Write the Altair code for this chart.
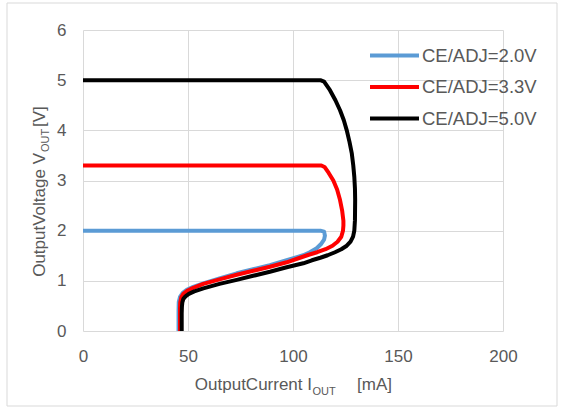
import altair as alt
import pandas as pd

# ---- data ----
series_names = ["CE/ADJ=2.0V", "CE/ADJ=3.3V", "CE/ADJ=5.0V"]
series_colors = ["#5B9BD5", "#FF0000", "#000000"]

blue_i = [0, 113, 114.8, 115.2, 114.8, 113.5, 111.3, 108, 104.9, 97, 89, 81, 73.2, 65, 57.3, 52.5, 49.4, 47.5, 46.2, 45.6, 45.5, 45.5]
blue_v = [2.0, 2.0, 1.98, 1.9, 1.82, 1.74, 1.65, 1.57, 1.51, 1.41, 1.31, 1.23, 1.15, 1.05, 0.95, 0.88, 0.82, 0.76, 0.68, 0.58, 0.4, 0]

red_i = [0, 113.5, 115, 117, 119.2, 121, 122.4, 123.4, 124, 124, 123.8, 123, 121.2, 118.8, 115.5, 111.5, 107.5, 104, 97, 89, 81, 73.2, 65, 57.3, 52.5, 49.6, 47.8, 46.8, 46.3, 46.2, 46.2]
red_v = [3.3, 3.3, 3.27, 3.15, 3.0, 2.82, 2.61, 2.4, 2.2, 2.1, 2.0, 1.88, 1.78, 1.7, 1.63, 1.57, 1.52, 1.47, 1.37, 1.28, 1.2, 1.12, 1.03, 0.94, 0.86, 0.8, 0.74, 0.67, 0.57, 0.45, 0]

black_i = [0, 113, 114.8, 117.6, 120.2, 122.4, 124.2, 125.6, 126.9, 128, 128.7, 129.2, 129.5, 129.6, 129.5, 129.2, 128.6, 127.4, 125.6, 123, 120, 116.5, 113, 109, 104.9, 97, 89, 81, 73.2, 65, 57.3, 53, 50.4, 48.8, 47.8, 47.3, 47.1, 47, 47]
black_v = [5.0, 5.0, 4.97, 4.8, 4.6, 4.4, 4.2, 4.0, 3.77, 3.54, 3.3, 3.07, 2.84, 2.61, 2.21, 2.0, 1.88, 1.78, 1.7, 1.63, 1.57, 1.51, 1.46, 1.41, 1.35, 1.27, 1.18, 1.1, 1.02, 0.94, 0.85, 0.79, 0.74, 0.69, 0.64, 0.57, 0.48, 0.35, 0]

x_ticks = [0, 50, 100, 150, 200]
y_ticks = [0, 1, 2, 3, 4, 5, 6]
x_title_parts = ["OutputCurrent I", "OUT", "[mA]"]
y_title_parts = ["OutputVoltage V", "OUT", "[V]"]

# ---- build table ----
rows = []
for name, xs, ys in zip(series_names, [blue_i, red_i, black_i], [blue_v, red_v, black_v]):
    for k, (a, b) in enumerate(zip(xs, ys)):
        rows.append({"series": name, "I": a, "V": b, "idx": k})
df = pd.DataFrame(rows)

FONT = "Liberation Sans"
GRAY = "#595959"

lines = alt.Chart(df).mark_line(strokeWidth=4, strokeJoin="round", interpolate="linear").encode(
    x=alt.X("I:Q", scale=alt.Scale(domain=[0, 200], nice=False),
            axis=alt.Axis(values=x_ticks, title=None, labelPadding=17, labelFlush=False)),
    y=alt.Y("V:Q", scale=alt.Scale(domain=[0, 6], nice=False),
            axis=alt.Axis(values=y_ticks, title=None, labelPadding=17, labelFlush=False)),
    color=alt.Color("series:N",
                    scale=alt.Scale(domain=series_names, range=series_colors),
                    legend=alt.Legend(title=None, orient="none", legendX=297, legendY=11,
                                      symbolType="M-2,0H2", symbolSize=600, symbolStrokeWidth=4,
                                      symbolFillColor="transparent",
                                      labelFont=FONT, labelFontSize=18.5, labelColor=GRAY,
                                      labelOffset=13, rowPadding=7.5, padding=0)),
    order="idx:Q",
)

border = alt.Chart(pd.DataFrame({"k": [0]})).mark_rect(
    fillOpacity=0, stroke="#D9D9D9", strokeWidth=1
).encode(x=alt.value(-76), x2=alt.value(474), y=alt.value(-27), y2=alt.value(376))

def txt(s, x, y, size, angle=0, align="left"):
    return alt.Chart(pd.DataFrame({"t": [s]})).mark_text(
        font=FONT, fontSize=size, color=GRAY, align=align, baseline="alphabetic", angle=angle
    ).encode(text="t:N", x=alt.value(x), y=alt.value(y))

xt1 = txt(x_title_parts[0], 229, 360, 17, align="right")
xt2 = txt(x_title_parts[1], 229.5, 365, 11)
xt3 = txt(x_title_parts[2], 274, 360, 17)

yt1 = txt(y_title_parts[0], -38, 123, 17, angle=270, align="right")
yt2 = txt(y_title_parts[1], -34.5, 122, 11, angle=270)
yt3 = txt(y_title_parts[2], -38, 97, 17, angle=270)

chart = alt.layer(border, lines, xt1, xt2, xt3, yt1, yt2, yt3).properties(
    width=420, height=301,
    padding={"left": 83, "top": 30, "right": 61, "bottom": 79},
    autosize=alt.AutoSizeParams(type="none"),
    background="white",
).configure_view(stroke=None).configure_axis(
    grid=True, gridColor="#D9D9D9", gridWidth=1, domain=False, ticks=False, tickSize=0,
    labelFont=FONT, labelFontSize=17, labelColor=GRAY,
)

chart.save("out.html", embed_options={"renderer": "svg", "actions": False})
